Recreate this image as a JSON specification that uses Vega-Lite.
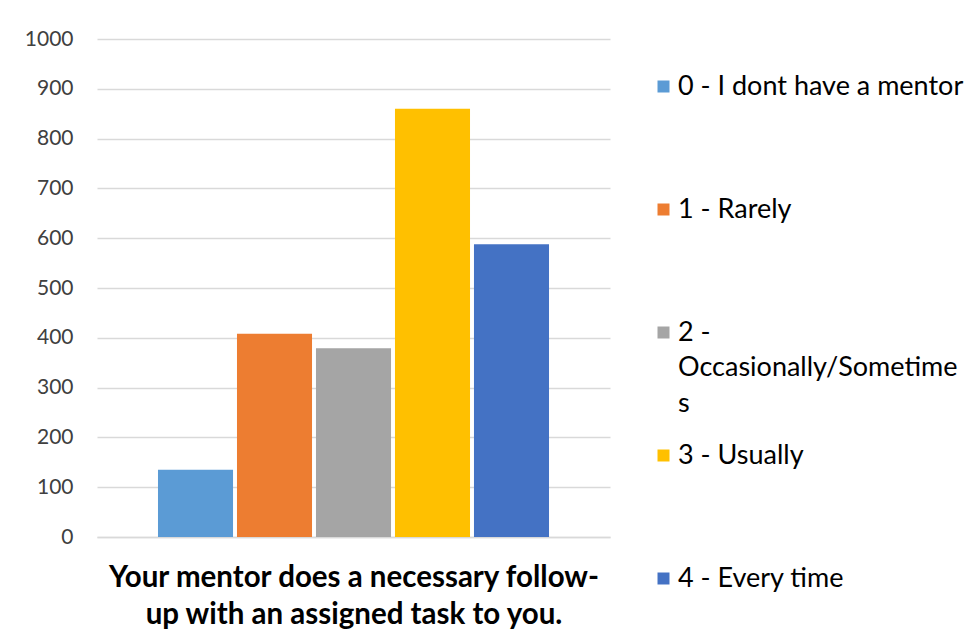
{
  "$schema": "https://vega.github.io/schema/vega-lite/v6.json",
  "width": 513,
  "height": 498,
  "autosize": {"type": "none"},
  "padding": {"left": 97, "top": 39, "right": 369, "bottom": 106},
  "background": "white",
  "config": {"view": {"stroke": null}, "font": "Lato", "style": {"guide-label": {"lineHeight": 35.5}}},
  "data": {
    "values": [
      {"response": "0 - I dont have a mentor", "count": 135},
      {"response": "1 - Rarely", "count": 408},
      {"response": "2 - Occasionally/Sometimes", "count": 379},
      {"response": "3 - Usually", "count": 860},
      {"response": "4 - Every time", "count": 588}
    ]
  },
  "mark": {"type": "bar"},
  "encoding": {
    "x": {
      "field": "response",
      "type": "nominal",
      "sort": null,
      "scale": {"paddingInner": 0.05, "paddingOuter": 0.772},
      "axis": {
        "labels": false,
        "ticks": false,
        "domainColor": "#D9D9D9",
        "domainWidth": 1.5,
        "title": ["Your mentor does a necessary follow-", "up with an assigned task to you."],
        "titleFont": "Lato",
        "titleFontSize": 29.5,
        "titleFontWeight": "bold",
        "titleColor": "black",
        "titlePadding": 26,
        "titleLineHeight": 37
      }
    },
    "y": {
      "field": "count",
      "type": "quantitative",
      "scale": {"domain": [0, 1000]},
      "axis": {
        "values": [0, 100, 200, 300, 400, 500, 600, 700, 800, 900, 1000],
        "format": "d",
        "domain": false,
        "ticks": false,
        "gridColor": "#D9D9D9",
        "gridWidth": 1.5,
        "labelFontSize": 21,
        "labelColor": "#404040",
        "labelPadding": 24,
        "title": null
      }
    },
    "color": {
      "field": "response",
      "type": "nominal",
      "sort": null,
      "scale": {"range": ["#5B9BD5", "#ED7D31", "#A5A5A5", "#FFC000", "#4472C4"]},
      "legend": {
        "title": null,
        "orient": "none",
        "legendX": 553,
        "legendY": 34,
        "padding": 0,
        "symbolType": "square",
        "symbolSize": 144,
        "symbolStrokeWidth": 0,
        "labelOffset": 1,
        "labelFontSize": 27,
        "labelColor": "black",
        "labelLimit": 400,
        "rowPadding": 24,
        "labelExpr": "datum.label == '2 - Occasionally/Sometimes' ? ['2 -', 'Occasionally/Sometime', 's'] : [datum.label, '', '']"
      }
    }
  }
}
